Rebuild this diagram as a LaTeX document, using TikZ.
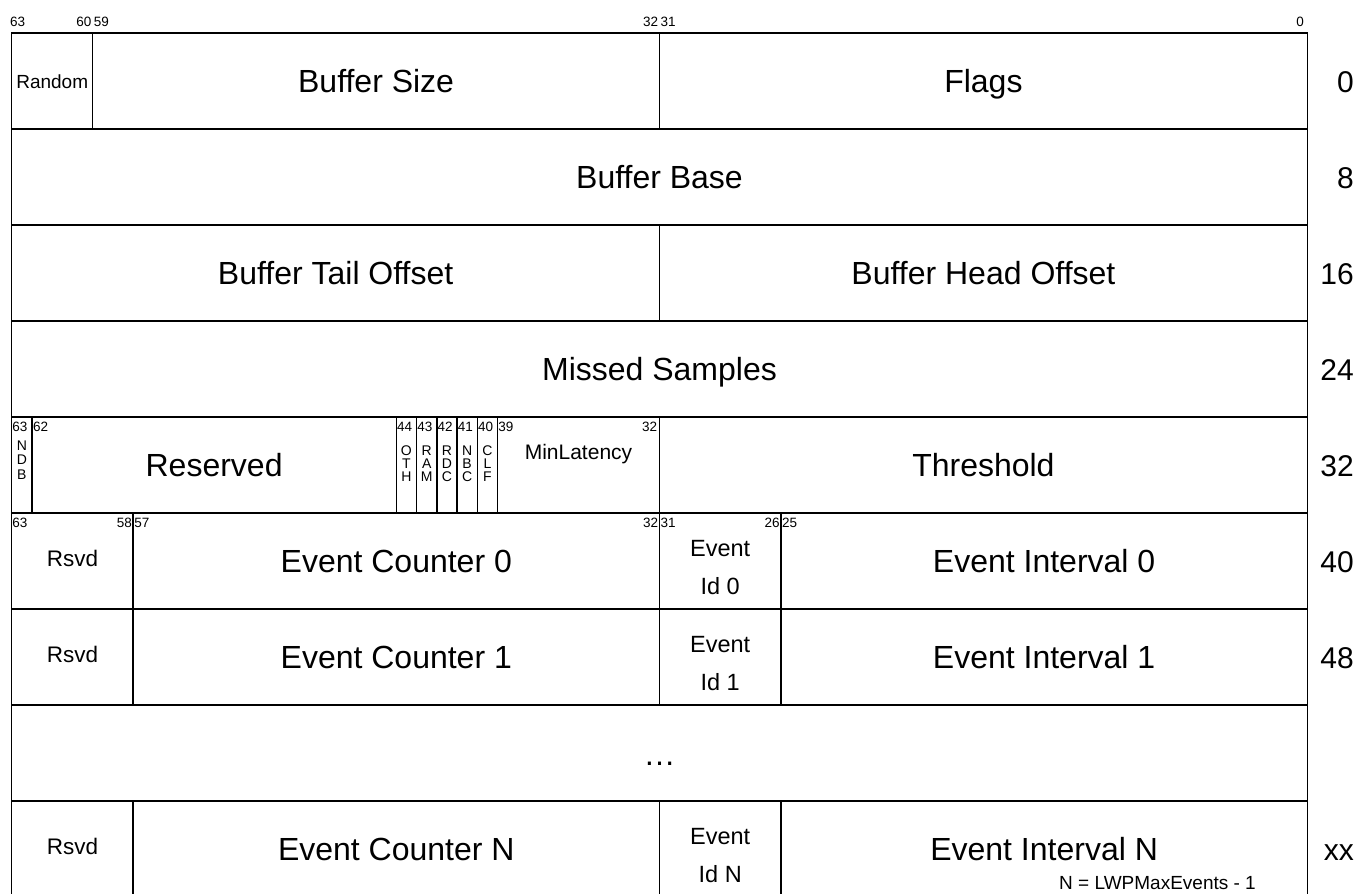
\documentclass[tikz,border=0pt]{standalone}
\usepackage{fontspec}
\setmainfont{Liberation Sans}
% left edge of the column of bit #1 (bit 63 at the far left)
\newcommand\bl[1]{(11.7+(63-(#1))*20.2422)}
% centre of the column of bit #1
\newcommand\bc[1]{(11.7+(63-(#1))*20.2422+10.1211)}
\tikzset{
  frame/.style={line width=1.5pt, draw=black},
  big/.style={inner sep=0pt, anchor=base, font=\fontsize{32}{38}\selectfont},
  mid/.style={inner sep=0pt, anchor=base, font=\fontsize{22.5}{26}\selectfont},
  offs/.style={inner sep=0pt, anchor=base east, font=\fontsize{30}{36}\selectfont},
  bitw/.style={inner sep=0pt, anchor=base west, font=\fontsize{13.5}{15}\selectfont},
  bite/.style={inner sep=0pt, anchor=base east, font=\fontsize{13.5}{15}\selectfont},
  vlet/.style={inner sep=0pt, anchor=base, font=\fontsize{14}{15}\selectfont},
}
\begin{document}
\begin{tikzpicture}[x=1pt, y=-1pt]
\useasboundingbox (0,0) rectangle (1358,894);
\clip (0,0) rectangle (1358,894);

% ---- outer frame and row separators ----
\draw[frame] (11.7,33) rectangle (1307.3,897);
\foreach \y in {129,225,321,417,513,609,705,801}
  \draw[frame] (11.7,\y) -- (1307.3,\y);

% ---- field separators ----
% offset 0
\draw[frame] ({\bl{59}},33) -- ({\bl{59}},129);
\draw[frame] ({\bl{31}},33) -- ({\bl{31}},129);
% offset 16
\draw[frame] ({\bl{31}},225) -- ({\bl{31}},321);
% offset 32
\foreach \b in {62,44,43,42,41,40,39,31}
  \draw[frame] ({\bl{\b}},417) -- ({\bl{\b}},513);
% offsets 40, 48 and the last entry
\foreach \t/\u in {513/705, 801/897}
  \foreach \b in {57,31,25}
    \draw[frame] ({\bl{\b}},\t) -- ({\bl{\b}},\u);

% ---- bit numbers above the first row ----
\node[bitw] (h63) at (10,26) {63};
\node[bite] (h60) at ({\bl{59}-1},26) {60};
\node[bitw] (h59) at ({\bl{59}+1},26) {59};
\node[bite] (h32) at ({\bl{31}-1},26) {32};
\node[bitw] (h31) at ({\bl{31}+1},26) {31};
\node[bite] (h0)  at (1304,26) {0};

% ---- offset 0 ----
\node[inner sep=0pt, anchor=base, font=\fontsize{19}{22}\selectfont] (random) at (52.2,88) {Random};
\node[big] (bufsize) at (376.1,92) {Buffer Size};
\node[big] (flags) at (983.4,92) {Flags};

% ---- offset 8 ----
\node[big] (bufbase) at (659.5,188) {Buffer Base};

% ---- offset 16 ----
\node[big] (tail) at (335.6,284) {Buffer Tail Offset};
\node[big] (head) at (983.4,284) {Buffer Head Offset};

% ---- offset 24 ----
\node[big] (missed) at (659.5,380) {Missed Samples};

% ---- offset 32 ----
\node[bitw] (r63) at ({\bl{63}+0.5},431) {63};
\node[bitw] (r62) at ({\bl{62}+1},431) {62};
\foreach \b in {44,43,42,41,40,39}
  \node[bitw] (r\b) at ({\bl{\b}+0.6},431) {\b};
\node[bite] (r32) at ({\bl{31}-2},431) {32};
\foreach \c [count=\i] in {N,D,B}
  \node[vlet] (ndb\i) at ({\bc{63}},{450+(\i-1)*14.5}) {\c};
\foreach \b/\word in {44/{O,T,H},43/{R,A,M},42/{R,D,C},41/{N,B,C},40/{C,L,F}}
  \foreach \c [count=\i] in \word
    \node[vlet] (f\b l\i) at ({\bc{\b}},{455+(\i-1)*13.2}) {\c};
\node[big] (reserved) at (214.1,476) {Reserved};
\node[inner sep=0pt, anchor=base, font=\fontsize{21}{25}\selectfont] (minlat) at (578.5,459) {MinLatency};
\node[big] (threshold) at (983.4,476) {Threshold};

% ---- bit numbers of the event entries ----
\node[bitw] (e63) at ({\bl{63}+0.5},527) {63};
\node[bite] (e58) at ({\bl{57}-1},527) {58};
\node[bitw] (e57) at ({\bl{57}+1},527) {57};
\node[bite] (e32) at ({\bl{31}-1},527) {32};
\node[bitw] (e31) at ({\bl{31}+1},527) {31};
\node[bite] (e26) at ({\bl{25}-1},527) {26};
\node[bitw] (e25) at ({\bl{25}+1},527) {25};

% ---- event entries ----
\foreach \t/\k in {513/0, 609/1, 801/N} {
  \node[mid] (rsvd\k) at (72.4,{\t+53}) {Rsvd};
  \node[big] (ctr\k) at (396.3,{\t+59}) {Event Counter \k};
  \node[inner sep=0pt, anchor=base, font=\fontsize{23.5}{28}\selectfont] (idA\k) at (720.2,{\t+43}) {Event};
  \node[inner sep=0pt, anchor=base, font=\fontsize{23.5}{28}\selectfont] (idB\k) at (720.2,{\t+81}) {Id \k};
  \node[big] (int\k) at (1044.1,{\t+59}) {Event Interval \k};
}
\node[big] (dots) at (659.5,765) {…};
\node[inner sep=0pt, anchor=base east, font=\fontsize{19}{23}\selectfont] (note) at (1256,889.5) {N = LWPMaxEvents - 1};

% ---- byte offsets ----
\foreach \t/\o in {33/0, 129/8, 225/16, 321/24, 417/32, 513/40, 609/48, 801/xx}
  \node[offs] (off\o) at (1354,{\t+59}) {\o};
\end{tikzpicture}
\end{document}
